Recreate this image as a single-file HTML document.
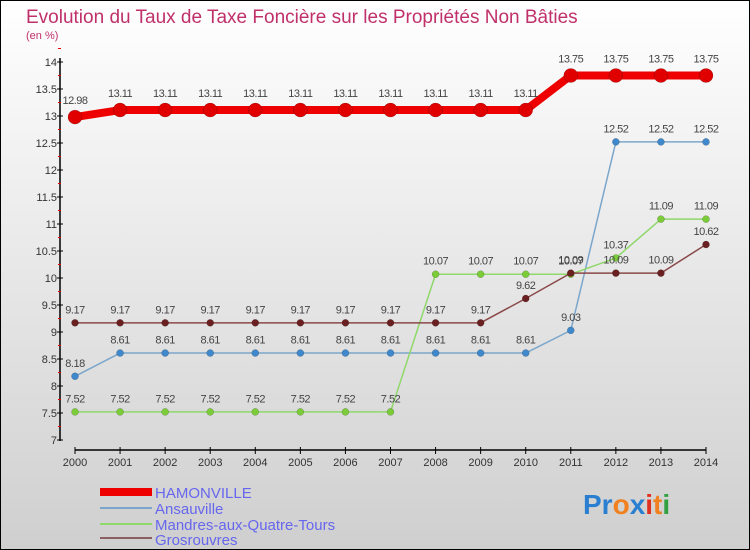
<!DOCTYPE html>
<html><head><meta charset="utf-8"><style>
html,body{margin:0;padding:0}
body{width:750px;height:550px;overflow:hidden;font-family:"Liberation Sans",sans-serif}
</style></head><body>
<svg id="chart" width="750" height="550" xmlns="http://www.w3.org/2000/svg" style="display:block">
<defs><linearGradient id="bg" x1="0" y1="0" x2="0" y2="1"><stop offset="0" stop-color="#ffffff"/><stop offset="1" stop-color="#cfcfcf"/></linearGradient></defs>
<rect x="0.5" y="0.5" width="749" height="549" fill="url(#bg)" stroke="#000"/>
<text x="26" y="23" font-size="19" fill="#c0306a">Evolution du Taux de Taxe Foncière sur les Propriétés Non Bâties</text>
<text x="26" y="39" font-size="11" fill="#c0306a">(en %)</text>
<g id="axes"></g><g id="series"></g>
<g>
<rect x="100" y="488" width="52" height="8" fill="#ee0000"/>
<text x="155" y="498" font-size="15" fill="#6666ee">HAMONVILLE</text>
<rect x="100" y="507" width="52" height="2" fill="#7ba6cb"/>
<text x="155" y="514" font-size="15" fill="#6666ee">Ansauville</text>
<rect x="100" y="523" width="52" height="2" fill="#8fd86a"/>
<text x="155" y="530" font-size="15" fill="#6666ee">Mandres-aux-Quatre-Tours</text>
<rect x="100" y="537" width="52" height="2" fill="#8a6060"/>
<text x="155" y="545" font-size="15" fill="#6666ee">Grosrouvres</text>
</g>
<g font-size="28" font-weight="bold">
<text x="583" y="514"><tspan fill="#2a7fd0">Pr</tspan><tspan fill="#f08020">o</tspan><tspan fill="#2a7fd0">x</tspan><tspan fill="#e03020">i</tspan><tspan fill="#f08020">t</tspan><tspan fill="#30a040">i</tspan></text>
</g>
</svg>
<script>
const years=[2000,2001,2002,2003,2004,2005,2006,2007,2008,2009,2010,2011,2012,2013,2014];
const yTicks=[7,7.5,8,8.5,9,9.5,10,10.5,11,11.5,12,12.5,13,13.5,14];
const hamonville=[12.98,13.11,13.11,13.11,13.11,13.11,13.11,13.11,13.11,13.11,13.11,13.75,13.75,13.75,13.75];
const ansauville=[8.18,8.61,8.61,8.61,8.61,8.61,8.61,8.61,8.61,8.61,8.61,9.03,12.52,12.52,12.52];
const mandres=[7.52,7.52,7.52,7.52,7.52,7.52,7.52,7.52,10.07,10.07,10.07,10.07,10.37,11.09,11.09];
const grosrouvres=[9.17,9.17,9.17,9.17,9.17,9.17,9.17,9.17,9.17,9.17,9.62,10.09,10.09,10.09,10.62];
const NS="http://www.w3.org/2000/svg";
const x=i=>75+i*(706-75)/(years.length-1);
const y=v=>440-(v-7)*(440-62)/7;
function mk(tag,attrs,parent){const e=document.createElementNS(NS,tag);for(const k in attrs)e.setAttribute(k,attrs[k]);parent.appendChild(e);return e;}
const ax=document.getElementById('axes');
const yl=mk('line',{x1:60,y1:58,x2:60,y2:441,stroke:'#000','stroke-width':1.5},ax);


yTicks.forEach(t=>{
 mk('line',{x1:57,x2:63,y1:y(t),y2:y(t),stroke:'#000'},ax);
 mk('line',{x1:58,x2:61,y1:y(t+0.25),y2:y(t+0.25),stroke:'#e00000'},ax);
 const tx=mk('text',{x:57,y:y(t)+4,'font-size':11,'text-anchor':'end',fill:'#333'},ax);
 tx.textContent=t;
 
 
});
const xl=mk('line',{x1:75,y1:450,x2:706,y2:450,stroke:'#000','stroke-width':1.5},ax);


years.forEach((yr,i)=>{
 mk('line',{x1:x(i),x2:x(i),y1:447,y2:454,stroke:'#000'},ax);
 const tx=mk('text',{x:x(i),y:466,'font-size':11,'text-anchor':'middle',fill:'#333'},ax);
 tx.textContent=yr;
 
 
});
const sg=document.getElementById('series');
function draw(vals,name,color,dot,w,r){
 const g=mk('g',{},sg);
 
 
 mk('polyline',{points:vals.map((v,i)=>x(i)+','+y(v)).join(' '),fill:'none',stroke:color,'stroke-width':w,'stroke-linejoin':'round'},g);
 vals.forEach((v,i)=>{
  const c=mk('circle',{cx:x(i),cy:y(v),r:r,fill:dot,stroke:'rgba(0,0,0,0.3)','stroke-width':0.5},g);
  
  
  const t=mk('text',{x:x(i),y:y(v)-(r+6),'font-size':11,'text-anchor':'middle',fill:'#444','letter-spacing':'-0.5'},g);
  t.textContent=v;
  
  
 });
}
draw(ansauville,'ansauville','#7ba6cb','#3f88cc',1.5,3.5);
draw(mandres,'mandres','#8fd86a','#7ccc3a',1.5,3.5);
draw(grosrouvres,'grosrouvres','#8a4848','#6a2020',1.5,3.5);
draw(hamonville,'hamonville','#ee0000','#e00000',8,7);
</script>
</body></html>
